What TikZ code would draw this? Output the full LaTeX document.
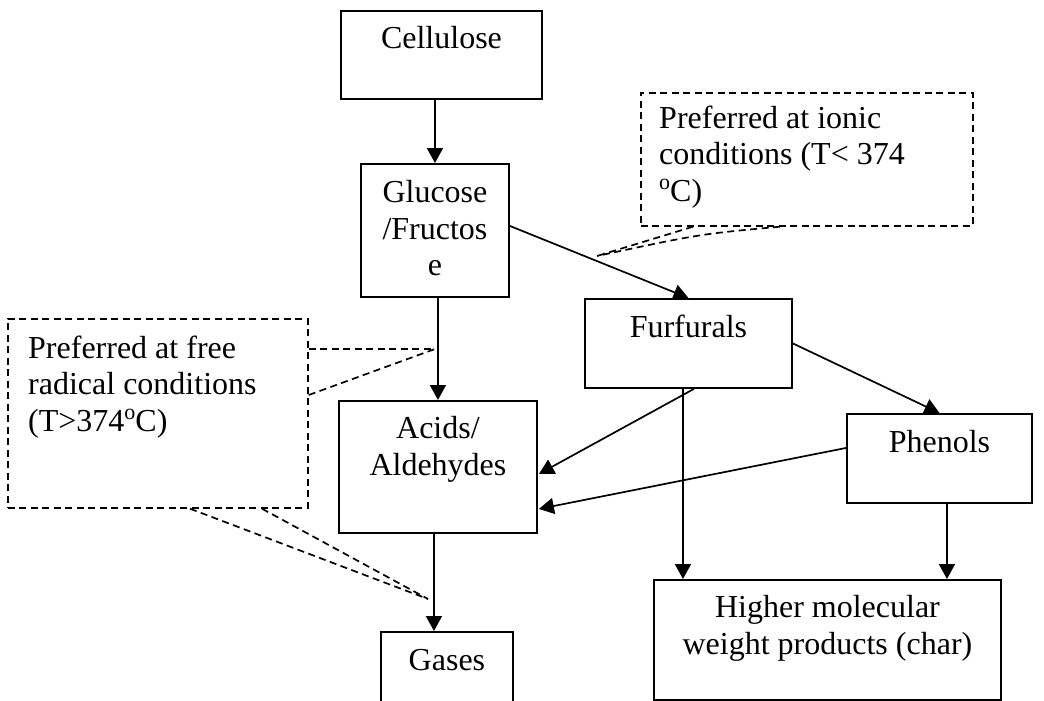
\documentclass[tikz,border=0pt]{standalone}
\usepackage{fontspec}
\setmainfont{Liberation Serif}
\usetikzlibrary{arrows.meta,calc}
\newcommand{\degsup}{\raisebox{0.36em}{\fontsize{22}{22}\selectfont o}}
\begin{document}
\begin{tikzpicture}[x=1pt,y=-1pt,
  box/.style={draw, line width=1.9pt, inner sep=0pt, anchor=north west},
  callout/.style={draw, line width=1.7pt, dash pattern=on 7pt off 4.5pt, inner sep=0pt, anchor=north west},
  lbl/.style={anchor=base, inner sep=0pt, font=\fontsize{32}{36.7}\selectfont},
  lbll/.style={anchor=base west, inner sep=0pt, font=\fontsize{32}{36.7}\selectfont},
  arr/.style={line width=1.7pt, -{Triangle[length=15pt,width=16pt]}},
  ptr/.style={line width=1.7pt, dash pattern=on 7pt off 4.5pt}]
\useasboundingbox (0,0) rectangle (1044,701);
\clip (0,0) rectangle (1044,701);
% boxes
\node[box, minimum width=201pt, minimum height=88pt] (cell) at (340,10) {};
\node[box, minimum width=148pt, minimum height=133pt] (gluc) at (360,163) {};
\node[box, minimum width=207pt, minimum height=89pt] (furf) at (584,298) {};
\node[box, minimum width=198pt, minimum height=132pt] (acid) at (338,400) {};
\node[box, minimum width=185pt, minimum height=89pt] (phen) at (846,413) {};
\node[box, minimum width=132pt, minimum height=100pt] (gases) at (380,631) {};
\node[box, minimum width=347pt, minimum height=120pt] (high) at (653,579) {};
\node[callout, minimum width=332pt, minimum height=133pt] (callR) at (640,92) {};
\node[callout, minimum width=300pt, minimum height=189pt] (callL) at (7,318) {};
% texts
\node[lbl] (tcell) at ($(cell.north)+(0,38.5)$) {Cellulose};
\node[lbl] (tgluc) at ($(gluc.north)+(0,39.5)$) {\begin{tabular}[t]{@{}c@{}}Glucose\\/Fructos\\e\end{tabular}};
\node[lbl] (tfurf) at ($(furf.north)+(0,39.5)$) {Furfurals};
\node[lbl] (tacid) at ($(acid.north)+(0,38.5)$) {\begin{tabular}[t]{@{}c@{}}Acids/\\Aldehydes\end{tabular}};
\node[lbl] (tphen) at ($(phen.north)+(0,39)$) {Phenols};
\node[lbl] (tgases) at ($(gases.north)+(0,39)$) {Gases};
\node[lbl] (thigh) at ($(high.north)+(0,38.5)$) {\begin{tabular}[t]{@{}c@{}}Higher molecular\\weight products (char)\end{tabular}};
\node[lbll] (tcallR) at (659,128) {\begin{tabular}[t]{@{}l@{}}Preferred at ionic\\conditions (T< 374\\\degsup C)\end{tabular}};
\node[lbll] (tcallL) at (28,358) {\begin{tabular}[t]{@{}l@{}}Preferred at free\\radical conditions\\(T>374\degsup C)\end{tabular}};
% arrows
\draw[arr] (gluc.north |- cell.south) -- (gluc.north);
\draw[arr] (acid.north |- gluc.south) -- (acid.north);
\coordinate (ag) at ($(acid.south)+(-4,0)$);
\draw[arr] (ag) -- (ag |- gases.north);
\draw[arr] ($(gluc.east)+(0,-4.5)$) -- (furf.north);
\draw[arr] ($(furf.south)+(5.5,0)$) -- ($(acid.east)+(1,7)$);
\coordinate (fh) at ($(furf.south)+(-5.5,0)$);
\draw[arr] (fh) -- (fh |- high.north);
\draw[arr] (furf.east) -- (phen.north);
\draw[arr] ($(phen.west)+(0,-10.5)$) -- ($(acid.east)+(1,42)$);
\coordinate (ph) at ($(phen.south)+(7.5,0)$);
\draw[arr] (ph) -- (ph |- high.north);
% callout pointers
\coordinate (pL1) at (435,349);
\coordinate (pL2) at (428,599);
\coordinate (pR) at (597,256);
\draw[ptr] (callL.east |- pL1) -- (pL1);
\draw[ptr] ($(callL.north east)+(0,77)$) -- (pL1);
\draw[ptr] ($(callL.south west)+(183,0)$) -- (pL2);
\draw[ptr] ($(callL.south west)+(255,0)$) -- (pL2);
\draw[ptr] ($(callR.south west)+(53,0)$) -- (pR);
\draw[ptr] ($(callR.south west)+(140,0)$) .. controls (700,234) .. (pR);
\end{tikzpicture}
\end{document}
